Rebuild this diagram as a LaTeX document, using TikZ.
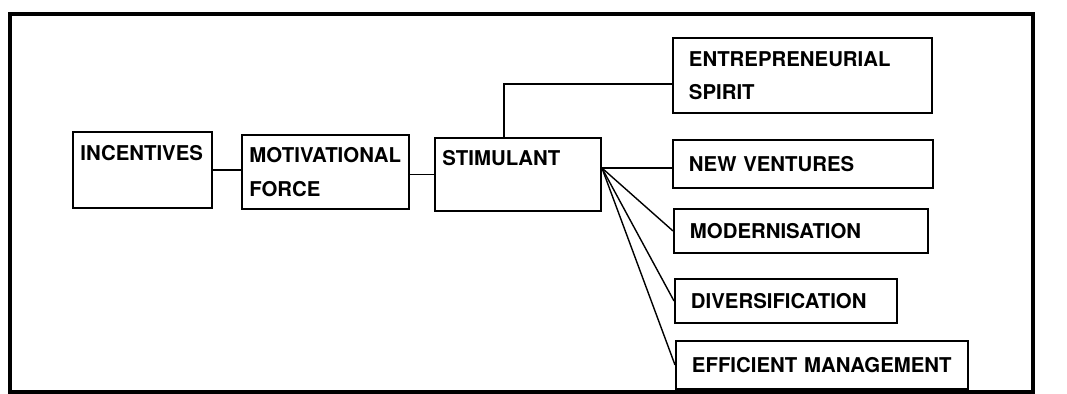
\documentclass[tikz,border=0pt]{standalone}
\usepackage{fontspec}
\setmainfont{TeX Gyre Heros}
\hyphenpenalty=10000
\begin{document}
\begin{tikzpicture}[x=0.02cm,y=-0.02cm,
  box/.style={draw, line width=1.1pt, anchor=north west, align=left, inner ysep=0pt,
    font=\bfseries\fontsize{11.6}{19}\selectfont},
  lbox/.style={box, inner xsep=0.15cm},
  rbox/.style={box, inner xsep=0.32cm},
  link/.style={line width=0.8pt}]
\useasboundingbox (0,0) rectangle (1067,394);
\draw [line width=1.8pt] (10,14) rectangle (1033,392);
\node [lbox, text width=2.48cm, minimum height=1.52cm] (incent) at (72,131) {INCENTIVES\\\mbox{}};
\node [lbox, text width=3.04cm, minimum height=1.48cm] (motiv) at (241,134) {MOTIVATIONAL\\FORCE};
\node [lbox, text width=3.02cm, minimum height=1.46cm] (stim) at (434,137) {STIMULANT\\\mbox{}};
\node [rbox, text width=4.54cm, minimum height=1.50cm] (entre) at (672,37) {ENTREPRENEURIAL\\SPIRIT};
\node [rbox, text width=4.56cm, minimum height=0.96cm] (newv) at (672,139) {NEW VENTURES};
\node [rbox, text width=4.44cm, minimum height=0.88cm] (modern) at (673,208) {MODERNISATION};
\node [rbox, text width=3.80cm, minimum height=0.88cm] (divers) at (674,278) {DIVERSIFICATION};
\node [rbox, text width=5.20cm, minimum height=0.96cm] (effic) at (675,340) {EFFICIENT MANAGEMENT};
\draw [link] (incent.east) -- (incent.east -| motiv.west);
\draw [link] (stim.west) -- (stim.west -| motiv.east);
\draw [link] ([xshift=-0.28cm]stim.north) |- ([yshift=-0.17cm]entre.west);
\coordinate (fan) at ([yshift=0.13cm]stim.east);
\draw [link] (fan) -- (fan -| newv.west);
\draw [link] (fan) -- (modern.west);
\draw [link] (fan) -- (divers.west);
\draw [link] (fan) -- (effic.west);
\end{tikzpicture}
\end{document}
